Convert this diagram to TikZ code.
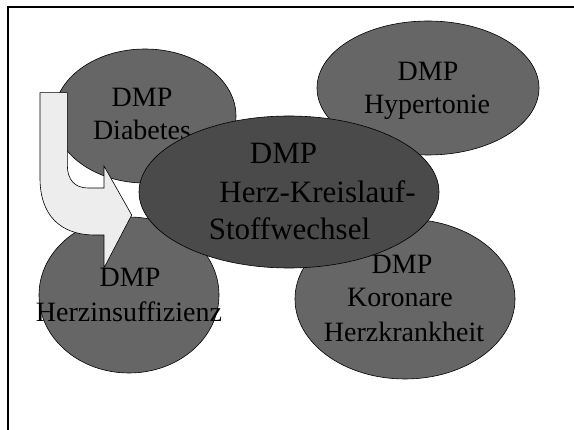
\documentclass[tikz,border=0pt]{standalone}
\usepackage{fontspec}
\setmainfont{Liberation Serif}
\begin{document}
\begin{tikzpicture}[x=1pt,y=-1pt,
  outer/.style={fill=black!60,draw=black,line width=0.6pt},
  inner/.style={fill=black!71,draw=black,line width=0.6pt},
  lbl/.style={anchor=base,inner sep=0pt,font=\fontsize{28}{33}\selectfont},
  clbl/.style={anchor=base,inner sep=0pt,font=\fontsize{31}{38}\selectfont},
  arrowshape/.style={fill=black!7,draw=black,line width=0.6pt,line join=miter}]
\useasboundingbox (0,0) rectangle (574,430);
% frame
\coordinate (fbl) at (7.5,432);
\coordinate (ftl) at (7.5,7.5);
\coordinate (ftr) at (576,7.5);
\draw[line width=2pt] (fbl) -- (ftl) -- (ftr);
% Diabetes
\path[outer] (145,116) ellipse [x radius=91pt, y radius=67pt];
\node[lbl] (d1) at (142,107) {DMP};
\node[lbl] (d2) at (142,140) {Diabetes};
% Hypertonie
\path[outer] (428,88) ellipse [x radius=111pt, y radius=67pt];
\node[lbl] (h1) at (428,81) {DMP};
\node[lbl] (h2) at (427,114) {Hypertonie};
% Herzinsuffizienz
\path[outer] (129,295) ellipse [x radius=90pt, y radius=78pt];
\node[lbl] (i1) at (130,287) {DMP};
\node[lbl] (i2) at (129,322) {Herzinsuffizienz};
% Koronare
\path[outer] (405,299) ellipse [x radius=110pt, y radius=80pt];
\node[lbl] (k1) at (402,274) {DMP};
\node[lbl] (k2) at (400,307) {Koronare};
\node[lbl] (k3) at (404,342) {Herzkrankheit};
% bent arrow
\path[arrowshape] (40,92.7) -- (67.3,92.7) -- (67.3,165)
  .. controls (67.3,180) and (75,188) .. (88,188) -- (104,188) -- (104,166)
  -- (131.7,215) -- (104,268) -- (104,235) -- (95,235)
  .. controls (60,235) and (40,215) .. (40,178) -- cycle;
% central
\path[inner] (289,192) ellipse [x radius=150pt, y radius=76pt];
\node[clbl] (c1) at (283.5,164) {DMP};
\node[clbl] (c2) at (317.5,203) {Herz-Kreislauf-};
\node[clbl] (c3) at (289.5,240) {Stoffwechsel};
\end{tikzpicture}
\end{document}
